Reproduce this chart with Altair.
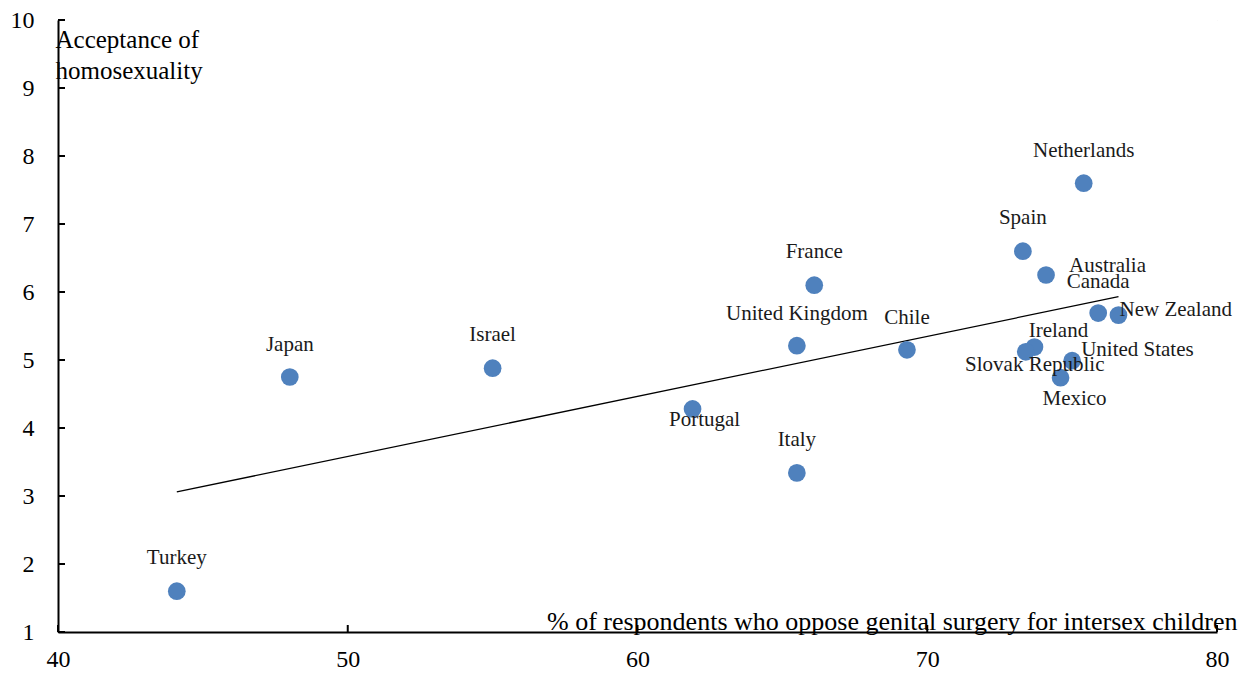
import altair as alt
import pandas as pd

countries = ["Turkey", "Japan", "Israel", "Portugal", "United Kingdom", "Italy",
             "France", "Chile", "Spain", "Netherlands", "Australia", "Canada",
             "New Zealand", "Ireland", "Slovak Republic", "United States", "Mexico"]
oppose_surgery = [44.1, 48.0, 55.0, 61.9, 65.5, 65.5, 66.1, 69.3, 73.3, 75.4,
                  74.1, 75.9, 76.6, 73.7, 73.4, 75.0, 74.6]
acceptance = [1.60, 4.75, 4.88, 4.28, 5.21, 3.34, 6.10, 5.15, 6.60, 7.60,
              6.25, 5.69, 5.66, 5.19, 5.12, 4.99, 4.74]

x_ticks = [40, 50, 60, 70, 80]
y_ticks = [1, 2, 3, 4, 5, 6, 7, 8, 9, 10]

# label placement relative to each point (pixels)
label_dx = [0, 0, 0, 12, 0, 0, 0, 0, 0, 0, 23, 0, 1, 24, 9, 9, 14]
label_dy = [-33, -32, -33, 11, -32, -33, -33, -32, -33, -32, -9, -31, -5, -16, 13, -11, 21]
label_align = ["center", "center", "center", "center", "center", "center",
               "center", "center", "center", "center", "left", "center",
               "left", "center", "center", "left", "center"]

FONT = "Liberation Serif"
W, H = 1159, 612

df = pd.DataFrame({"country": countries, "x": oppose_surgery, "y": acceptance})
xt = pd.DataFrame({"x": x_ticks})
yt = pd.DataFrame({"y": y_ticks})

xscale = alt.Scale(domain=[40, 80], nice=False, zero=False)
yscale = alt.Scale(domain=[1, 10], nice=False, zero=False)

x_axis = alt.Axis(
    values=x_ticks, format="d",
    title="% of respondents who oppose genital surgery for intersex children",
    titleFont=FONT, titleFontSize=26, titleFontWeight="normal", titleColor="black",
    titleX=1179, titleY=-3, titleAlign="right", titleBaseline="alphabetic",
    labelFont=FONT, labelFontSize=24, labelColor="black", labelPadding=15,
    labelFlush=False, tickSize=0, domainColor="black", domainWidth=2,
    grid=True, gridColor="white", gridWidth=2,
)
y_axis = alt.Axis(
    values=y_ticks, format="d", title=["Acceptance of", "homosexuality"],
    titleFont=FONT, titleFontSize=25, titleFontWeight="normal", titleColor="black",
    titleAngle=0, titleAlign="left", titleBaseline="top", titleX=-3, titleY=7,
    titleLineHeight=31,
    labelFont=FONT, labelFontSize=24, labelColor="black", labelPadding=24,
    labelFlush=False, tickSize=0, domainColor="black", domainWidth=2,
    grid=True, gridColor="white", gridWidth=2,
)

points = alt.Chart(df).mark_circle(size=314, color="#4f81bd", opacity=1).encode(
    x=alt.X("x:Q", scale=xscale, axis=x_axis),
    y=alt.Y("y:Q", scale=yscale, axis=y_axis),
)

trend = alt.Chart(df).transform_regression("x", "y").mark_line(
    color="black", strokeWidth=1.3
).encode(x="x:Q", y="y:Q")

xtick_rules = alt.Chart(xt).mark_rule(color="black", strokeWidth=2).encode(
    x="x:Q", y=alt.value(H), y2=alt.value(H - 7)
)
ytick_rules = alt.Chart(yt).mark_rule(color="black", strokeWidth=2).encode(
    y="y:Q", x=alt.value(0), x2=alt.value(7)
)

label_layers = []
for name, dx, dy, al in zip(countries, label_dx, label_dy, label_align):
    label_layers.append(
        alt.Chart(df).transform_filter(alt.datum.country == name).mark_text(
            font=FONT, fontSize=21, color="#1a1a1a", dx=dx, dy=dy, align=al,
            baseline="middle"
        ).encode(x="x:Q", y="y:Q", text="country:N")
    )

chart = alt.layer(trend, points, xtick_rules, ytick_rules, *label_layers).properties(
    width=W, height=H,
    autosize=alt.AutoSizeParams(type="none"),
    padding={"left": 50, "top": 12, "right": 22, "bottom": 41},
).configure_view(fill="#dce6f2", stroke=None).configure(background="white")

chart.save("out.html", embed_options={"renderer": "svg", "actions": False})
